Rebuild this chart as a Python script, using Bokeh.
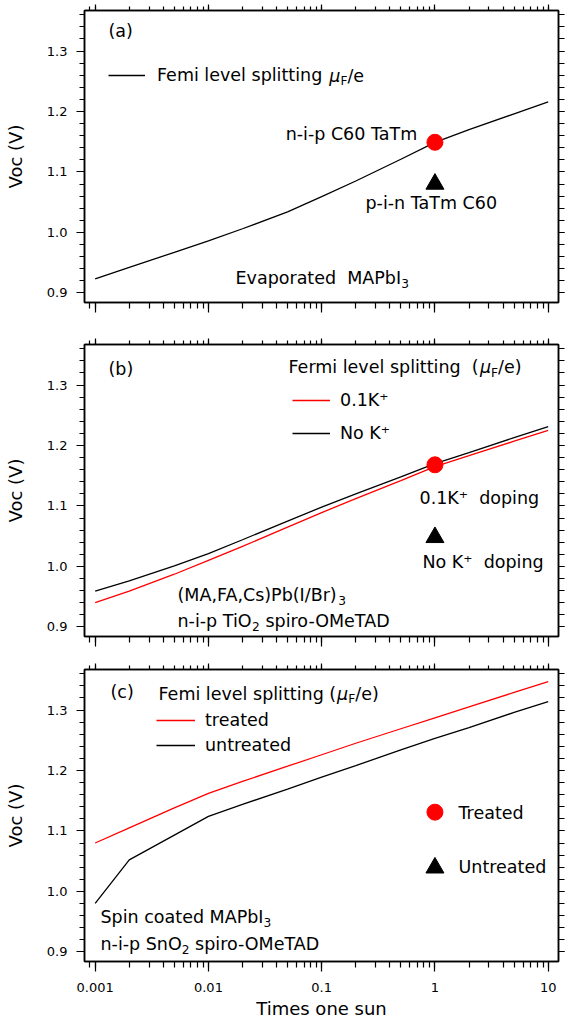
from bokeh.plotting import figure
from bokeh.layouts import column
from bokeh.models import (Range1d, LogAxis, LinearAxis, FixedTicker, SingleIntervalTicker,
                          CustomJSTickFormatter, NumeralTickFormatter, Label, Legend, LegendItem)
from bokeh.embed import file_html
from bokeh.resources import INLINE

# ---------------- data ----------------
sun = [0.001, 0.002, 0.005, 0.01, 0.02, 0.05, 0.1, 0.2, 0.5, 1, 2, 5, 10]
a_fermi = [0.923, 0.942, 0.967, 0.986, 1.006, 1.034, 1.059, 1.085, 1.121, 1.149, 1.170, 1.196, 1.216]
b_fermi_k = [0.940, 0.959, 0.987, 1.010, 1.033, 1.065, 1.089, 1.112, 1.142, 1.165, 1.183, 1.207, 1.225]
b_fermi_nok = [0.959, 0.976, 1.001, 1.021, 1.044, 1.075, 1.098, 1.120, 1.148, 1.170, 1.188, 1.213, 1.231]
c_fermi_treated = [1.080, 1.105, 1.138, 1.162, 1.182, 1.207, 1.226, 1.245, 1.269, 1.287, 1.305, 1.329, 1.347]
c_fermi_untreated = [0.980, 1.052, 1.093, 1.124, 1.144, 1.169, 1.189, 1.208, 1.234, 1.253, 1.271, 1.296, 1.314]

device_sun = [1]
a_nip_voc = [1.149]
a_pin_voc = [1.080]
b_k_voc = [1.168]
b_nok_voc = [1.048]
c_treated_voc = [1.131]
c_untreated_voc = [1.039]

x_ticks = [0.001, 0.01, 0.1, 1, 10]
x_tick_labels = ["0.001", "0.01", "0.1", "1", "10"]
x_minor = [m * 10.0 ** e for e in range(-4, 2) for m in range(1, 10)]

X0, X1 = 0.000805, 12.33
Y0, Y1 = 0.884, 1.367

FONT = "DejaVu Sans"
TXT = 17.5
FRAME_H = 292
NB = "\u00a0"

# DejaVu Sans advance widths (1/1000 em) for rich-text composition
W = {" ": 318, NB: 318, "(": 390, ")": 390, "+": 838, ",": 318, "-": 361, ".": 318, "/": 337,
     "A": 684, "B": 686, "C": 698, "D": 770, "E": 632, "F": 575, "I": 295, "K": 656, "M": 863,
     "N": 748, "O": 787, "P": 603, "S": 635, "T": 611, "a": 613, "b": 635, "c": 550, "d": 635,
     "e": 615, "g": 635, "h": 634, "i": 278, "l": 278, "m": 974, "n": 634, "o": 612, "p": 635,
     "r": 411, "s": 521, "t": 392, "u": 634, "v": 592, "μ": 636}
for _d in "0123456789":
    W[_d] = 636


def tw(s, size):
    return sum(W.get(c, 600) for c in s) * size / 1000.0


def rich(p, x, y, parts, size=TXT):
    cx = x
    for txt, kind in parts:
        fs = size * 0.7 if kind == "sub" else size
        lead = len(txt) - len(txt.lstrip(" "))
        cx += tw(" " * lead, fs)
        txt = txt.lstrip(" ")
        p.add_layout(Label(x=cx, y=y - 5.5 if kind == "sub" else y, x_units="screen", y_units="screen",
                           text=txt, text_font=FONT, text_font_size=f"{fs:.1f}px",
                           text_font_style="italic" if kind == "it" else "normal",
                           text_baseline="middle", text_align="left", text_color="black"))
        cx += tw(txt, fs)


def label(p, x, y, txt, size=TXT, align="left"):
    p.add_layout(Label(x=x, y=y, x_units="screen", y_units="screen", text=txt,
                       text_font=FONT, text_font_size=f"{size}px", text_baseline="middle",
                       text_align=align, text_color="black"))


def make_panel(top, bottom, show_x):
    p = figure(width=565, height=top + FRAME_H + bottom, x_axis_type="log",
               x_range=Range1d(X0, X1), y_range=Range1d(Y0, Y1),
               output_backend="svg", toolbar_location=None,
               min_border_left=84, min_border_right=7, min_border_top=top, min_border_bottom=bottom)
    p.grid.visible = False
    p.outline_line_color = "black"
    p.outline_line_width = 1.5
    p.background_fill_color = "white"
    p.border_fill_color = "white"

    xt = FixedTicker(ticks=x_ticks, minor_ticks=x_minor)
    yt = SingleIntervalTicker(interval=0.1, num_minor_ticks=5)
    blank = CustomJSTickFormatter(code="return '';")

    bx = p.xaxis[0]
    bx.ticker = xt
    bx.major_tick_in = 0
    bx.minor_tick_in = 0
    bx.major_tick_out = 10
    bx.minor_tick_out = 6
    bx.axis_line_width = 1.5
    bx.axis_line_color = "black"
    bx.major_tick_line_width = 1.2
    bx.minor_tick_line_width = 1.2
    if show_x:
        bx.formatter = CustomJSTickFormatter(
            args=dict(tvals=x_ticks, tlabels=x_tick_labels),
            code="""const i = tvals.findIndex(t => Math.abs(Math.log10(t) - Math.log10(tick)) < 1e-6);
                    return i >= 0 ? tlabels[i] : '';""")
        bx.major_label_text_font = FONT
        bx.major_label_text_font_size = "13px"
        bx.major_label_text_color = "black"
        bx.major_label_standoff = 11
        bx.axis_label = "Times one sun"
        bx.axis_label_text_font = FONT
        bx.axis_label_text_font_size = "18px"
        bx.axis_label_text_font_style = "normal"
        bx.axis_label_text_color = "black"
        bx.axis_label_standoff = 3
    else:
        bx.formatter = blank
        bx.major_label_text_font_size = "0px"
        bx.major_label_standoff = 0

    ly = p.yaxis[0]
    ly.ticker = yt
    ly.formatter = NumeralTickFormatter(format="0.0")
    ly.major_tick_in = 0
    ly.minor_tick_in = 0
    ly.major_tick_out = 8
    ly.minor_tick_out = 5
    ly.axis_line_width = 1.5
    ly.axis_line_color = "black"
    ly.major_tick_line_width = 1.2
    ly.minor_tick_line_width = 1.2
    ly.major_label_text_font = FONT
    ly.major_label_text_font_size = "13px"
    ly.major_label_text_color = "black"
    ly.major_label_standoff = 9
    ly.axis_label = "Voc (V)"
    ly.axis_label_text_font = FONT
    ly.axis_label_text_font_size = "18px"
    ly.axis_label_text_font_style = "normal"
    ly.axis_label_text_color = "black"
    ly.axis_label_standoff = 18

    ta = LogAxis(ticker=xt, formatter=blank, major_label_text_font_size="0px", major_label_standoff=0,
                 major_tick_in=0, minor_tick_in=0, major_tick_out=6, minor_tick_out=4,
                 axis_line_width=1.5, major_tick_line_width=1.2, minor_tick_line_width=1.2)
    p.add_layout(ta, "above")
    ra = LinearAxis(ticker=yt, formatter=blank, major_label_text_font_size="0px", major_label_standoff=0,
                    major_tick_in=0, minor_tick_in=0, major_tick_out=6, minor_tick_out=6,
                    axis_line_width=1.5, major_tick_line_width=1.2, minor_tick_line_width=1.2)
    p.add_layout(ra, "right")
    return p


def legend(p, items, x, y, glyph_w, standoff, spacing):
    lg = Legend(items=[LegendItem(label=t, renderers=[r]) for t, r in items],
                location=(x, y), orientation="vertical", padding=0, margin=0, spacing=spacing,
                glyph_width=glyph_w, glyph_height=20, label_height=20, label_standoff=standoff,
                label_text_font=FONT, label_text_font_size=f"{TXT}px", label_text_color="black",
                border_line_color=None, background_fill_alpha=0)
    p.add_layout(lg)


# ---------------- panel (a) ----------------
p1 = make_panel(10, 21, False)
ra1 = p1.line(sun, a_fermi, line_color="black", line_width=1.3)
p1.scatter(device_sun, a_nip_voc, marker="circle", size=16, color="red")
p1.scatter(device_sun, a_pin_voc, marker="triangle", size=18, color="black")
label(p1, 24, 272, "(a)")
legend(p1, [("Femi level splitting", ra1)], 24, 217, 37, 12, 0)
rich(p1, 24 + 37 + 12 + tw("Femi level splitting ", TXT), 227,
     [("μ", "it"), ("F", "sub"), ("/e", "n")])
label(p1, 332.7, 169, "n-i-p C60 TaTm", align="right")
label(p1, 281, 100, "p-i-n TaTm C60")
rich(p1, 151, 25, [("Evaporated" + NB + " MAPbI", "n"), ("3", "sub")])

# ---------------- panel (b) ----------------
p2 = make_panel(21, 16, False)
rb_k = p2.line(sun, b_fermi_k, line_color="red", line_width=1.3)
rb_n = p2.line(sun, b_fermi_nok, line_color="black", line_width=1.3)
p2.scatter(device_sun, b_k_voc, marker="circle", size=16, color="red")
p2.scatter(device_sun, b_nok_voc, marker="triangle", size=18, color="black")
label(p2, 24, 268, "(b)")
rich(p2, 204, 269.3, [("Fermi level splitting" + NB + " (", "n"), ("μ", "it"), ("F", "sub"), ("/e)", "n")])
legend(p2, [("0.1K⁺", rb_k), ("No K⁺", rb_n)], 208, 193, 38, 10, 13)
label(p2, 335, 138.3, "0.1K⁺" + NB + " doping")
label(p2, 338, 75, "No K⁺" + NB + " doping")
rich(p2, 93, 42, [("(MA,FA,Cs)Pb(I/Br)", "n"), ("3", "sub")])
rich(p2, 93, 16, [("n-i-p TiO", "n"), ("2", "sub"), (" spiro-OMeTAD", "n")])

# ---------------- panel (c) ----------------
p3 = make_panel(17, 60, True)
rc_t = p3.line(sun, c_fermi_treated, line_color="red", line_width=1.3)
rc_u = p3.line(sun, c_fermi_untreated, line_color="black", line_width=1.3)
p3.scatter(device_sun, c_treated_voc, marker="circle", size=16, color="red")
p3.scatter(device_sun, c_untreated_voc, marker="triangle", size=18, color="black")
label(p3, 26, 269.3, "(c)")
rich(p3, 74, 268, [("Femi level splitting (", "n"), ("μ", "it"), ("F", "sub"), ("/e)", "n")])
legend(p3, [("treated", rc_t), ("untreated", rc_u)], 72, 206, 39, 10, 5)
label(p3, 374, 149, "Treated")
label(p3, 374, 95, "Untreated")
rich(p3, 16, 45, [("Spin coated MAPbI", "n"), ("3", "sub")])
rich(p3, 16, 18, [("n-i-p SnO", "n"), ("2", "sub"), (" spiro-OMeTAD", "n")])

layout = column(p1, p2, p3, spacing=0)
open("out.html", "w").write(file_html(layout, INLINE))
